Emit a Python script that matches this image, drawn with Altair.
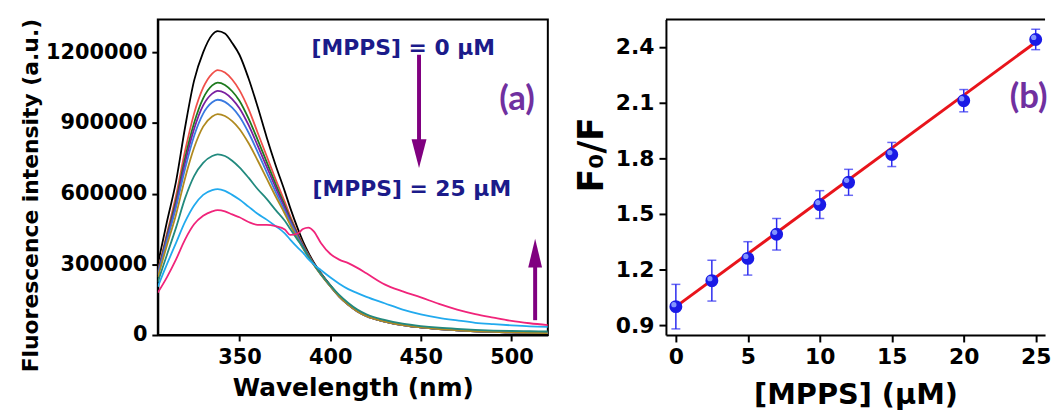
import altair as alt
import pandas as pd

# ---------------- Panel (a): fluorescence spectra ----------------
wavelengths = [305, 310, 315, 320, 325, 330, 335, 338, 342, 346, 350, 355, 360, 365, 370,
               375, 378, 382, 385, 388, 391, 395, 400, 405, 410, 415, 420, 430, 440, 450,
               460, 470, 480, 490, 500, 510, 520]

# intensities in thousands (a.u.)
s_0 = [300, 480, 650, 880, 1080, 1200, 1275, 1290, 1280, 1240, 1190, 1090, 970, 840, 720, 610, 540, 455, 398, 350,
       308, 262, 212, 165, 130, 102, 82, 58, 43, 33, 26, 21, 17, 14, 12, 10, 9]
s_2 = [270, 430, 590, 780, 940, 1050, 1110, 1125, 1115, 1085, 1040, 960, 860, 760, 660, 565, 505, 435, 385, 342,
       303, 260, 210, 164, 129, 101, 81, 57, 42, 32, 25, 20, 16, 13, 11, 9, 8]
s_5 = [265, 420, 570, 750, 900, 1005, 1060, 1072, 1062, 1035, 995, 920, 830, 735, 640, 550, 495, 428, 380, 338,
       301, 258, 209, 164, 129, 101, 81, 57, 42, 32, 25, 20, 16, 13, 11, 9, 8]
s_7 = [260, 410, 555, 730, 875, 975, 1025, 1037, 1028, 1002, 963, 892, 805, 715, 625, 540, 488, 423, 377, 336,
       300, 257, 208, 163, 128, 100, 80, 57, 42, 32, 25, 20, 16, 13, 11, 9, 8]
s_10 = [255, 400, 540, 705, 845, 940, 988, 999, 990, 965, 928, 860, 778, 692, 607, 527, 478, 417, 373, 334,
        299, 256, 208, 163, 128, 100, 80, 57, 42, 32, 25, 20, 16, 13, 11, 9, 8]
s_12 = [245, 380, 510, 665, 795, 885, 928, 938, 930, 908, 875, 815, 742, 665, 588, 515, 468, 410, 368, 331,
        297, 255, 207, 163, 128, 100, 80, 57, 42, 32, 25, 20, 16, 13, 11, 9, 8]
s_15 = [225, 340, 455, 580, 675, 731, 760, 767, 760, 740, 712, 668, 620, 578, 530, 485, 450, 405, 372, 335,
        300, 258, 212, 170, 136, 108, 88, 64, 48, 38, 31, 26, 22, 19, 17, 16, 15]
s_20 = [205, 300, 390, 480, 550, 595, 615, 619, 612, 595, 575, 545, 515, 490, 462, 432, 405, 372, 350, 322,
        300, 275, 245, 218, 195, 178, 162, 135, 108, 88, 73, 62, 52, 46, 41, 37, 35]
s_25 = [180, 245, 320, 405, 470, 506, 525, 530, 525, 512, 500, 480, 468, 468, 462, 448, 425, 430, 450, 456,
        440, 390, 345, 320, 305, 285, 262, 215, 185, 160, 132, 108, 89, 74, 60, 50, 42]

series_names = ["0", "2.5", "5", "7", "10", "12", "15", "20", "25"]
series_values = [s_0, s_2, s_5, s_7, s_10, s_12, s_15, s_20, s_25]
series_colors = ["#000000", "#F0504A", "#1E7A1E", "#7A1FA0", "#3A7AE0",
                 "#B08A20", "#228A7E", "#22AAEE", "#F0247A"]

rows = []
for name, vals in zip(series_names, series_values):
    for w, v in zip(wavelengths, vals):
        rows.append({"wl": w, "I": v * 1000, "s": name})
spec_df = pd.DataFrame(rows)

# ---------------- Panel (b): Stern-Volmer ----------------
conc = [0, 2.5, 5, 7, 10, 12, 15, 20, 25]
ratio = [1.00, 1.14, 1.26, 1.39, 1.55, 1.67, 1.82, 2.11, 2.44]
err = [0.12, 0.11, 0.09, 0.085, 0.075, 0.07, 0.065, 0.06, 0.055]
fit_x = [0, 25]
fit_y = [1.0, 2.425]

sv_df = pd.DataFrame({"c": conc, "r": ratio, "e": err})
sv_df["lo"] = sv_df["r"] - sv_df["e"]
sv_df["hi"] = sv_df["r"] + sv_df["e"]
fit_df = pd.DataFrame({"c": fit_x, "r": fit_y})

FONT = "DejaVu Sans"
NAVY = "#1B1B8A"
PURPLE = "#800080"
LABELPURPLE = "#7030A0"

W1, H1 = 393, 318
W2, H2 = 382, 318

xs1 = alt.Scale(domain=[305, 520], nice=False, zero=False)
ys1 = alt.Scale(domain=[0, 1340000], nice=False)


def ax(**kw):
    base = dict(labelFont=FONT, labelFontWeight="bold", labelColor="black",
                tickColor="black", tickWidth=2, domainColor="black", domainWidth=2,
                grid=False, titleFont=FONT, titleFontWeight="bold", titleColor="black")
    base.update(kw)
    return alt.Axis(**base)


lines = alt.Chart(spec_df).mark_line(strokeWidth=1.8, interpolate="monotone", clip=True).encode(
    x=alt.X("wl:Q", scale=xs1,
            axis=ax(values=[350, 400, 450, 500], title="Wavelength (nm)", labelFontSize=21,
                    tickSize=6, labelPadding=6, titleFontSize=25, titlePadding=8)),
    y=alt.Y("I:Q", scale=ys1,
            axis=ax(values=[0, 300000, 600000, 900000, 1200000], format="d",
                    title="Fluorescence intensity (a.u.)", labelFontSize=21, tickSize=6,
                    labelPadding=5, titleFontSize=22, titlePadding=3, titleY=177)),
    color=alt.Color("s:N", scale=alt.Scale(domain=series_names, range=series_colors), legend=None),
)

# annotations for panel (a)
note_text = ["[MPPS] = 0 \u03bcM", "[MPPS] = 25 \u03bcM"]
note_x = [440.3, 445.0]
note_y = [1190000, 590000]
notes = alt.Chart(pd.DataFrame({"t": note_text, "x": note_x, "y": note_y})).mark_text(
    font=FONT, fontWeight="bold", fontSize=22, color=NAVY, baseline="alphabetic", align="center"
).encode(x=alt.X("x:Q", scale=xs1), y=alt.Y("y:Q", scale=ys1), text="t:N")

label_a = alt.Chart(pd.DataFrame({"t": ["(a)"], "x": [503.0], "y": [1000000]})).mark_text(
    font="Lato", fontWeight="bold", fontSize=35, color=LABELPURPLE, baseline="middle", align="center"
).encode(x=alt.X("x:Q", scale=xs1), y=alt.Y("y:Q", scale=ys1), text="t:N")

arrow_x = [449.0, 513.0]
arrow_from = [1190000, 63000]
arrow_to = [825000, 300000]
arrow_head = [770000, 348000]
arrow_dir = ["down", "up"]
arr_df = pd.DataFrame({"x": arrow_x, "y1": arrow_from, "y2": arrow_to, "yh": arrow_head, "d": arrow_dir})

shafts = alt.Chart(arr_df).mark_rule(color=PURPLE, strokeWidth=4).encode(
    x=alt.X("x:Q", scale=xs1), y=alt.Y("y1:Q", scale=ys1), y2="y2:Q")
head_down = alt.Chart(arr_df[arr_df.d == "down"]).mark_point(
    shape="M-0.52,-1L0.52,-1L0,1Z", size=841, filled=True, color=PURPLE, opacity=1
).encode(x=alt.X("x:Q", scale=xs1), y=alt.Y("yh:Q", scale=ys1))
head_up = alt.Chart(arr_df[arr_df.d == "up"]).mark_point(
    shape="M-0.48,1L0.48,1L0,-1Z", size=841, filled=True, color=PURPLE, opacity=1
).encode(x=alt.X("x:Q", scale=xs1), y=alt.Y("yh:Q", scale=ys1))

left = alt.layer(lines, notes, label_a, shafts, head_down, head_up).properties(width=W1, height=H1)

# ---------------- right chart ----------------
xs2 = alt.Scale(domain=[-0.69, 25.65], nice=False, zero=False)
ys2 = alt.Scale(domain=[0.847, 2.548], nice=False, zero=False)

xax2 = ax(values=[0, 5, 10, 15, 20, 25], title="[MPPS] (\u03bcM)", labelFontSize=22, tickSize=7,
          labelPadding=5, titleFontSize=29, titlePadding=13)
yax2 = ax(values=[0.9, 1.2, 1.5, 1.8, 2.1, 2.4], format=".1f", title="F\u2080/F", labelFontSize=22,
          tickSize=7, labelPadding=5, titleFontSize=35, titlePadding=6, titleY=136)

fit = alt.Chart(fit_df).mark_line(color="#E8141B", strokeWidth=3).encode(
    x=alt.X("c:Q", scale=xs2, axis=xax2), y=alt.Y("r:Q", scale=ys2, axis=yax2))
bars = alt.Chart(sv_df).mark_rule(color="#2B2BF0", strokeWidth=1.5).encode(
    x=alt.X("c:Q", scale=xs2), y=alt.Y("lo:Q", scale=ys2), y2="hi:Q")
cap_lo = alt.Chart(sv_df).mark_tick(color="#2B2BF0", orient="horizontal", size=9, thickness=1.5).encode(
    x=alt.X("c:Q", scale=xs2), y=alt.Y("lo:Q", scale=ys2))
cap_hi = alt.Chart(sv_df).mark_tick(color="#2B2BF0", orient="horizontal", size=9, thickness=1.5).encode(
    x=alt.X("c:Q", scale=xs2), y=alt.Y("hi:Q", scale=ys2))
pts = alt.Chart(sv_df).mark_circle(color="#1A1AE6", size=170, opacity=1).encode(
    x=alt.X("c:Q", scale=xs2), y=alt.Y("r:Q", scale=ys2))
shine = alt.Chart(sv_df).mark_circle(color="#8FA2FF", size=28, opacity=0.9, xOffset=-2, yOffset=-2).encode(
    x=alt.X("c:Q", scale=xs2), y=alt.Y("r:Q", scale=ys2))
top_line = alt.Chart(pd.DataFrame({"k": [0]})).mark_rule(color="black", strokeWidth=2).encode(
    x=alt.value(0), x2=alt.value(W2), y=alt.value(0))
label_b = alt.Chart(pd.DataFrame({"t": ["(b)"], "x": [23.2], "y": [2.13]})).mark_text(
    font="Lato", fontWeight="bold", fontSize=35, color=LABELPURPLE, baseline="middle", align="left"
).encode(x=alt.X("x:Q", scale=xs2), y=alt.Y("y:Q", scale=ys2), text="t:N")

right = alt.layer(top_line, fit, bars, cap_lo, cap_hi, pts, shine, label_b).properties(
    width=W2, height=H2, view=alt.ViewBackground(stroke="transparent"))

chart = alt.hconcat(left, right, spacing=25).properties(
    padding={"left": 18, "top": 15, "right": 0, "bottom": 0},
    background="white",
).configure_view(stroke="black", strokeWidth=2)

chart.save("out.html", embed_options={"renderer": "svg", "actions": False})
